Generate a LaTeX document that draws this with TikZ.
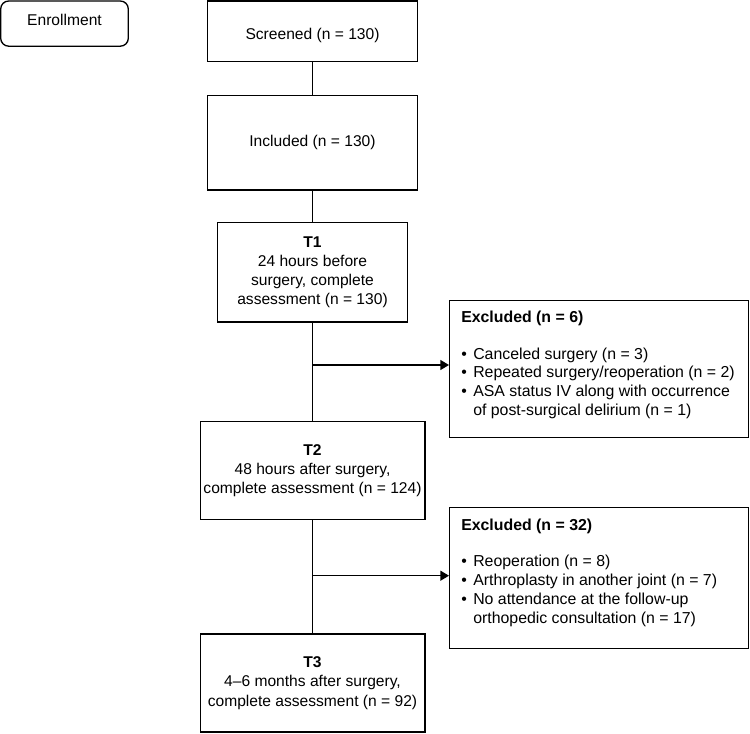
\documentclass[tikz,border=0pt]{standalone}
\usepackage{fontspec}
\setmainfont{Liberation Sans}
\usetikzlibrary{arrows.meta}
\newcommand\bulitem{\makebox[9pt][l]{\textbullet}}
\newcommand\bulcont{\makebox[9pt][l]{}}
\begin{document}
\begin{tikzpicture}[x=0.75pt,y=-0.75pt,
  every node/.style={font=\fontsize{11.7}{14.4}\selectfont, text=black},
  stage/.style={draw, line width=1pt, inner sep=0pt, align=center},
  exbox/.style={draw, line width=1pt, inner sep=0pt, anchor=north west, minimum width=224.25pt},
  extext/.style={anchor=base west, align=left, inner sep=0pt, font=\fontsize{11.9}{14.1}\selectfont},
  conn/.style={line width=1pt},
  arr/.style={line width=1pt, -{Triangle[length=6.5pt,width=7.5pt]}}]
\useasboundingbox (0,0) rectangle (750,733);

\node[draw, line width=1pt, rounded corners=6pt, minimum width=95.7pt, minimum height=33.9pt, inner sep=0pt] (enroll) at (64.5,23.6) {\raisebox{1.8pt}[8.5pt][2.5pt]{Enrollment}};

\node[stage, minimum width=157.5pt, minimum height=45.4pt] (screened) at (312.5,31.3) {\raisebox{-3.5pt}[8.5pt][2.5pt]{Screened (n = 130)}};
\node[stage, minimum width=157.5pt, minimum height=70.95pt] (included) at (312.5,142.7) {Included (n = 130)};
\node[stage, minimum width=142.95pt, minimum height=74.8pt] (t1) at (312.5,272.2) {\textbf{T1}\\24 hours before\\surgery, complete\\assessment (n = 130)};
\node[stage, minimum width=168.5pt, minimum height=73.5pt] (t2) at (312.5,470.7) {\textbf{T2}\\48 hours after surgery,\\complete assessment (n = 124)};
\node[stage, minimum width=168.5pt, minimum height=73.5pt] (t3) at (312.5,683) {\textbf{T3}\\4–6 months after surgery,\\complete assessment (n = 92)};

\node[exbox, minimum height=102.5pt] (exc1) at (449,300) {};
\node[extext] (exc1txt) at (461,415.5) {\textbf{Excluded (n = 6)}\\[13pt]
\bulitem Canceled surgery (n = 3)\\
\bulitem Repeated surgery/reoperation (n = 2)\\
\bulitem ASA status IV along with occurrence\\
\bulcont of post-surgical delirium (n = 1)};

\node[exbox, minimum height=105.5pt] (exc2) at (449,507) {};
\node[extext] (exc2txt) at (461,623.2) {\textbf{Excluded (n = 32)}\\[13pt]
\bulitem Reoperation (n = 8)\\
\bulitem Arthroplasty in another joint (n = 7)\\
\bulitem No attendance at the follow-up\\
\bulcont orthopedic consultation (n = 17)};

\draw[conn] (screened.south) -- (included.north);
\draw[conn] (included.south) -- (t1.north);
\draw[conn] (t1.south) -- (t2.north);
\draw[conn] (t2.south) -- (t3.north);

\coordinate (b1) at (312.5,365);
\coordinate (b2) at (312.5,575.7);
\draw[arr] (b1) -- (b1 -| exc1.west);
\draw[arr] (b2) -- (b2 -| exc2.west);
\end{tikzpicture}
\end{document}
